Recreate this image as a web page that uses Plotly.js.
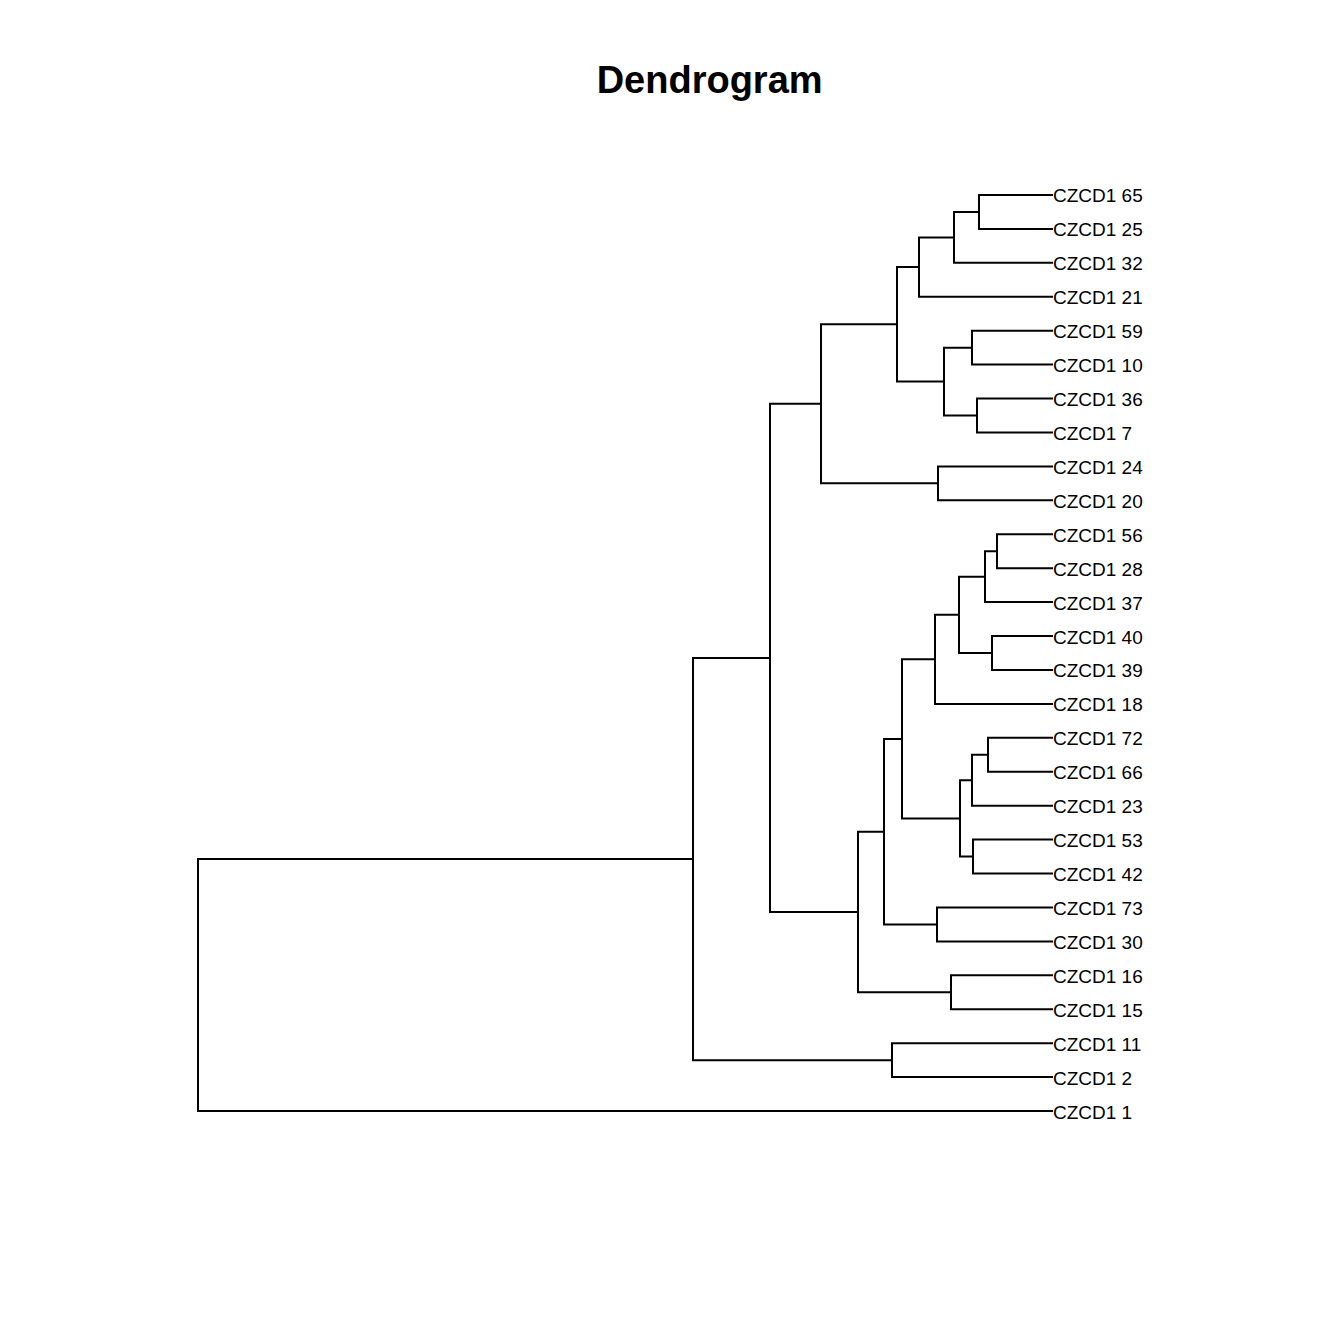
<!DOCTYPE html>
<html>
<head>
<meta charset="utf-8">
<script src="https://cdn.plot.ly/plotly-3.0.1.min.js"></script>
<style>html,body{margin:0;padding:0;background:#fff;}#chart{width:1344px;height:1344px;}</style>
</head>
<body>
<div id="chart"></div>
<script>
// Leaf labels, listed top to bottom as displayed
const leafLabels = ["CZCD1 65","CZCD1 25","CZCD1 32","CZCD1 21","CZCD1 59","CZCD1 10","CZCD1 36","CZCD1 7",
  "CZCD1 24","CZCD1 20","CZCD1 56","CZCD1 28","CZCD1 37","CZCD1 40","CZCD1 39","CZCD1 18",
  "CZCD1 72","CZCD1 66","CZCD1 23","CZCD1 53","CZCD1 42","CZCD1 73","CZCD1 30","CZCD1 16",
  "CZCD1 15","CZCD1 11","CZCD1 2","CZCD1 1"];

// hclust-style merge table: negative = leaf (1-based index in leafLabels), positive = earlier merge row
const mergeLeft  = [-1, 1, 2, -5, -7, 4, 3, -9, 7, -11, 10, -14, 11, 13, -17, 15, -20, 16, 14, -22, 19, -24, 21, 9, -26, 24, 26];
const mergeRight = [-2, -3, -4, -6, -8, 5, 6, -10, 8, -12, -13, -15, 12, -16, -18, -19, -21, 17, 18, -23, 20, -25, 22, 23, -27, 25, -28];
const mergeHeight = [0.74, 0.99, 1.34, 0.81, 0.76, 1.09, 1.56, 1.15, 2.32, 0.56, 0.68, 0.61, 0.94, 1.18,
  0.65, 0.81, 0.80, 0.93, 1.51, 1.16, 1.69, 1.02, 1.95, 2.83, 1.61, 3.60, 8.55];

const nLeaf = leafLabels.length;
const leafY = leafLabels.map((_, i) => nLeaf - i);
const nodeY = [];
function childPos(c) {
  if (c < 0) return {x: 0, y: leafY[-c - 1]};
  return {x: mergeHeight[c - 1], y: nodeY[c - 1]};
}
const segX = [], segY = [];
for (let i = 0; i < mergeHeight.length; i++) {
  const a = childPos(mergeLeft[i]), b = childPos(mergeRight[i]);
  const h = mergeHeight[i];
  nodeY.push((a.y + b.y) / 2);
  segX.push(a.x, h, h, b.x, null);
  segY.push(a.y, a.y, b.y, b.y, null);
}

const traces = [
  {type: 'scatter', mode: 'lines', x: segX, y: segY, line: {color: '#000', width: 2}, hoverinfo: 'skip', showlegend: false}
];

const annotations = leafLabels.map((lab, i) => ({
  x: 0, y: leafY[i], xref: 'x', yref: 'y', text: lab, showarrow: false,
  xanchor: 'left', yanchor: 'middle', xshift: -1, yshift: -1, borderpad: 0,
  font: {family: 'Liberation Sans, Arial, sans-serif', size: 19, color: '#000'}
}));

const layout = {
  width: 1344, height: 1344,
  paper_bgcolor: '#fff', plot_bgcolor: '#fff',
  margin: {l: 188, r: 281, t: 178, b: 216, pad: 0},
  showlegend: false,
  annotations: annotations,
  title: {text: 'Dendrogram', font: {family: 'Liberation Sans, Arial, sans-serif', size: 38, color: '#000', weight: 'bold'},
          xref: 'container', x: 0.528, xanchor: 'center', yref: 'container', y: 0.9405, yanchor: 'middle'},
  xaxis: {range: [8.65, -0.1], showgrid: false, zeroline: false, showticklabels: false, showline: false, ticks: '', fixedrange: true},
  yaxis: {range: [0.5, nLeaf + 0.5], showgrid: false, zeroline: false, showticklabels: false, showline: false, ticks: '', fixedrange: true}
};

Plotly.newPlot('chart', traces, layout, {displayModeBar: false, staticPlot: true});
</script>
</body>
</html>
